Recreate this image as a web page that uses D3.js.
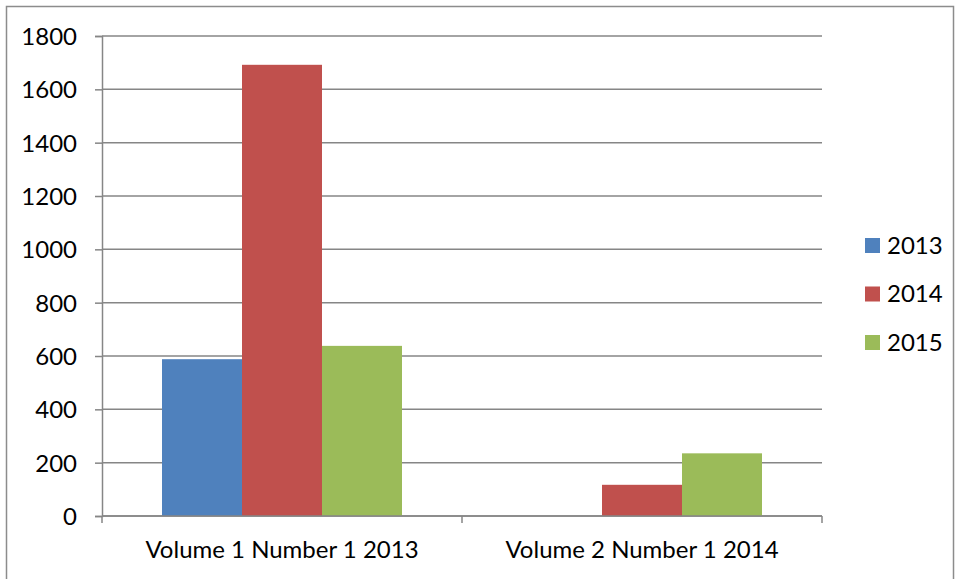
<!DOCTYPE html>
<html lang="en">
<head>
    <meta charset="UTF-8">
    <title>Volumes by year</title>
    <script src="https://d3js.org/d3.v7.min.js"></script>
    <style>
        body {
            margin: 0;
            background: white;
            font-family: Lato, "Open Sans", sans-serif;
        }
        .tick-label {
            font-size: 24px;
            fill: #000;
        }
    </style>
</head>
<body>
<svg width="955" height="579"></svg>
<script>
    // Data
    const categories = ["Volume 1 Number 1 2013", "Volume 2 Number 1 2014"];
    const seriesNames = ["2013", "2014", "2015"];
    const values2013 = [588, 0];
    const values2014 = [1692, 117];
    const values2015 = [638, 235];
    const seriesColors = ["#4F81BD", "#C0504D", "#9BBB59"];
    const yTicks = [0, 200, 400, 600, 800, 1000, 1200, 1400, 1600, 1800];

    const seriesValues = [values2013, values2014, values2015];

    const svg = d3.select("svg"),
        margin = { top: 36, left: 102 },
        width = 720,
        height = 480,
        g = svg.append("g").attr("transform", `translate(${margin.left},${margin.top})`);

    const gridColor = "#868686";

    // outer border
    svg.append("rect")
        .attr("x", 6.5).attr("y", 6.5)
        .attr("width", 947).attr("height", 590)
        .attr("fill", "none")
        .attr("stroke", "#8c8c8c")
        .attr("stroke-width", 1.5);

    const x0 = d3.scaleBand()
        .domain(categories)
        .range([0, width])
        .padding(0);

    const x1 = d3.scaleBand()
        .domain(seriesNames)
        .range([0, x0.bandwidth()])
        .paddingInner(0)
        .paddingOuter(0.75);

    const y = d3.scaleLinear()
        .domain([0, 1800])
        .range([height, 0]);

    // gridlines
    g.append("g")
        .selectAll("line")
        .data(yTicks)
        .enter().append("line")
        .attr("x1", 0).attr("x2", width)
        .attr("y1", d => y(d)).attr("y2", d => y(d))
        .attr("stroke", gridColor)
        .attr("stroke-width", 1.5);

    // bars
    const rows = categories.map((c, i) => seriesNames.map((s, j) => ({ cat: c, key: s, value: seriesValues[j][i], color: seriesColors[j] })));

    g.append("g")
        .selectAll("g")
        .data(rows)
        .enter().append("g")
        .attr("transform", (d, i) => `translate(${x0(categories[i])},0)`)
        .selectAll("rect")
        .data(d => d)
        .enter().append("rect")
        .attr("x", d => x1(d.key))
        .attr("width", x1.bandwidth())
        .attr("y", d => y(d.value))
        .attr("height", d => height - y(d.value))
        .attr("fill", d => d.color);

    // y axis
    const yAxis = g.append("g")
        .call(d3.axisLeft(y).tickValues(yTicks).tickFormat(d3.format("d")).tickSize(7).tickPadding(18));
    yAxis.select(".domain").attr("stroke", gridColor).attr("stroke-width", 1.5);
    yAxis.selectAll(".tick line").attr("stroke", gridColor).attr("stroke-width", 1.5);
    yAxis.selectAll("text")
        .attr("class", "tick-label")
        .attr("dy", "0.35em");
    yAxis.attr("font-family", null).attr("font-size", null);

    // x axis: line, boundary ticks and centered labels
    const xAxis = g.append("g").attr("transform", `translate(0,${height})`);
    xAxis.append("line")
        .attr("x1", 0).attr("x2", width)
        .attr("stroke", gridColor).attr("stroke-width", 1.5);
    const bounds = categories.map(c => x0(c)).concat([width]);
    xAxis.selectAll(".bound")
        .data(bounds)
        .enter().append("line")
        .attr("x1", d => d).attr("x2", d => d)
        .attr("y1", 0).attr("y2", 7)
        .attr("stroke", gridColor).attr("stroke-width", 1.5);
    xAxis.selectAll(".cat")
        .data(categories)
        .enter().append("text")
        .attr("class", "tick-label")
        .attr("x", d => x0(d) + x0.bandwidth() / 2)
        .attr("y", 42)
        .attr("text-anchor", "middle")
        .text(d => d);

    // legend
    const legend = svg.append("g").attr("transform", "translate(865,245.5)");
    const item = legend.selectAll("g")
        .data(seriesNames)
        .enter().append("g")
        .attr("transform", (d, i) => `translate(0,${i * 48.5})`);
    item.append("rect")
        .attr("x", 0).attr("y", -7.5)
        .attr("width", 15).attr("height", 15)
        .attr("fill", (d, i) => seriesColors[i]);
    item.append("text")
        .attr("class", "tick-label")
        .attr("x", 22)
        .attr("dy", "0.35em")
        .text(d => d);
</script>
</body>
</html>
